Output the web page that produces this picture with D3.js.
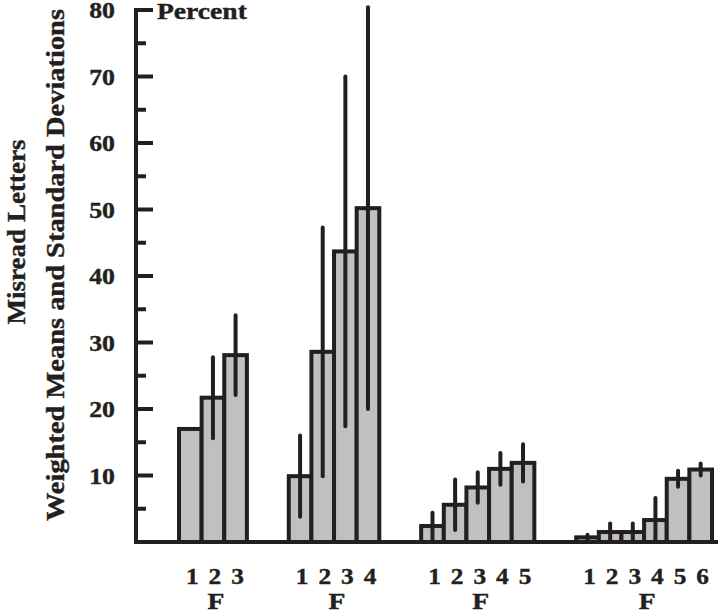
<!DOCTYPE html>
<html>
<head>
<meta charset="utf-8">
<script src="https://cdn.jsdelivr.net/npm/d3@7/dist/d3.min.js"></script>
<style>
  html, body { margin: 0; padding: 0; background: #fff; }
  svg { display: block; }
  text { font-family: "Liberation Serif", serif; font-weight: bold; fill: #231f20; stroke: #231f20; stroke-width: 0.4px; }
</style>
</head>
<body>
<svg id="chart" width="718" height="614"></svg>
<script>
// ---- data ----
const groupNames = ["F", "F", "F", "F"];
const levels1 = ["1", "2", "3"];
const levels2 = ["1", "2", "3", "4"];
const levels3 = ["1", "2", "3", "4", "5"];
const levels4 = ["1", "2", "3", "4", "5", "6"];
const means1 = [17.0, 21.7, 28.1];
const sds1   = [0, 6.1, 6.0];
const means2 = [9.9, 28.6, 43.7, 50.2];
const sds2   = [6.1, 18.7, 26.3, 30.2];
const means3 = [2.4, 5.6, 8.2, 11.0, 11.9];
const sds3   = [2.0, 3.8, 2.3, 2.4, 2.8];
const means4 = [0.7, 1.5, 1.5, 3.3, 9.5, 10.9];
const sds4   = [0.4, 1.3, 1.3, 3.3, 1.2, 0.9];
const yTicks = [10, 20, 30, 40, 50, 60, 70, 80];
const yMinorTicks = [5, 15, 25, 35, 45, 55, 65, 75];
const yUnit = "Percent";
const titleOuter = "Misread Letters";
const titleInner = "Weighted Means and Standard Deviations";

// ---- layout ----
const ink = "#231f20";
const fillGray = "#c0c0c0";
const leadSlots = 1.9, gapSlots = 1.85;
const levelSets = [levels1, levels2, levels3, levels4];
const meanSets = [means1, means2, means3, means4];
const sdSets = [sds1, sds2, sds3, sds4];

const bars = [];
const groupsInfo = [];
let slot = leadSlots;
levelSets.forEach((lv, g) => {
  const start = slot;
  lv.forEach((lab, i) => {
    bars.push({ g, label: lab, slot, mean: meanSets[g][i], sd: sdSets[g][i] });
    slot += 1;
  });
  groupsInfo.push({ name: groupNames[g], start, end: slot });
  slot += gapSlots;
});
const lastSlot = slot - gapSlots;

const axisX = 136, baseY = 542, topY = 10, rightX = 712;
const x = d3.scaleLinear().domain([0, lastSlot]).range([axisX, rightX]);
const y = d3.scaleLinear().domain([0, 80]).range([baseY, topY]);

const svg = d3.select("#chart");

function stretch(sel, f) {
  sel.each(function () {
    const w = this.getComputedTextLength();
    d3.select(this).attr("textLength", w * f).attr("lengthAdjust", "spacingAndGlyphs");
  });
}

// bars
svg.append("g").selectAll("rect").data(bars).join("rect")
  .attr("x", d => x(d.slot))
  .attr("width", d => x(d.slot + 1) - x(d.slot))
  .attr("y", d => y(d.mean))
  .attr("height", d => y(0) - y(d.mean))
  .attr("fill", fillGray)
  .attr("stroke", ink)
  .attr("stroke-width", 4);

// error bars
svg.append("g").selectAll("line").data(bars.filter(d => d.sd > 0)).join("line")
  .attr("x1", d => x(d.slot + 0.5))
  .attr("x2", d => x(d.slot + 0.5))
  .attr("y1", d => y(Math.max(0, d.mean - d.sd)))
  .attr("y2", d => y(d.mean + d.sd))
  .attr("stroke", ink)
  .attr("stroke-width", 4)
  .attr("stroke-linecap", "round");

// y axis
const ax = svg.append("g");
ax.append("line").attr("x1", axisX).attr("x2", axisX).attr("y1", y(0) + 2).attr("y2", y(80) - 2)
  .attr("stroke", ink).attr("stroke-width", 4);
ax.selectAll("line.maj").data(yTicks).join("line").attr("class", "maj")
  .attr("x1", axisX).attr("x2", axisX + 17).attr("y1", d => y(d)).attr("y2", d => y(d))
  .attr("stroke", ink).attr("stroke-width", 4);
ax.selectAll("line.min").data(yMinorTicks).join("line").attr("class", "min")
  .attr("x1", axisX).attr("x2", axisX + 10).attr("y1", d => y(d)).attr("y2", d => y(d))
  .attr("stroke", ink).attr("stroke-width", 4);
const tl = ax.selectAll("text.tl").data(yTicks).join("text").attr("class", "tl")
  .attr("x", 115).attr("y", d => y(d)).attr("dy", "0.35em")
  .attr("text-anchor", "end").attr("font-size", 23).text(d => d);
stretch(tl, 1.12);

// x baseline
svg.append("line").attr("x1", axisX - 2).attr("x2", 718).attr("y1", baseY).attr("y2", baseY)
  .attr("stroke", ink).attr("stroke-width", 4);

// unit label
const pu = svg.append("text").attr("x", 157).attr("y", 19).attr("font-size", 23).text(yUnit);
stretch(pu, 1.2);

// x level labels
const xl = svg.append("g").selectAll("text").data(bars).join("text")
  .attr("x", d => x(d.slot + 0.5) + 2).attr("y", 584)
  .attr("text-anchor", "middle").attr("font-size", 23).text(d => d.label);
stretch(xl, 1.1);
const gl = svg.append("g").selectAll("text").data(groupsInfo).join("text")
  .attr("x", d => x((d.start + d.end) / 2) + 3).attr("y", 609)
  .attr("text-anchor", "middle").attr("font-size", 23).text(d => d.name);
stretch(gl, 1.2);

// titles
svg.append("text").attr("transform", "translate(25,232) rotate(-90)")
  .attr("text-anchor", "middle").attr("font-size", 26)
  .attr("textLength", 185).attr("lengthAdjust", "spacingAndGlyphs").text(titleOuter);
svg.append("text").attr("transform", "translate(64,265) rotate(-90)")
  .attr("text-anchor", "middle").attr("font-size", 26)
  .attr("textLength", 512).attr("lengthAdjust", "spacingAndGlyphs").text(titleInner);
</script>
</body>
</html>
